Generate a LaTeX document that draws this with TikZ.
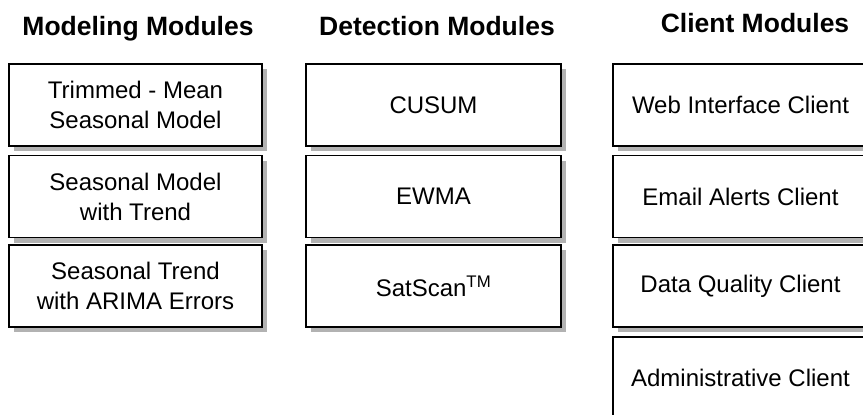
\documentclass[tikz,border=0pt]{standalone}
\usepackage{fontspec}
\setmainfont{Liberation Sans}
\usetikzlibrary{shadows}
\begin{document}
\begin{tikzpicture}[x=1pt,y=-1pt,
  modbox/.style={draw=black, line width=1.6pt, fill=white,
    minimum height=82pt, inner sep=0pt, align=center,
    font=\fontsize{24}{30}\selectfont,
    general shadow={fill=gray!60, shadow xshift=5pt, shadow yshift=-5pt}},
  modelbox/.style={modbox, minimum width=253pt},
  detbox/.style={modbox, minimum width=255pt},
  clibox/.style={modbox, minimum width=255pt},
  title/.style={anchor=base, inner sep=0pt, font=\fontsize{26.5}{30}\selectfont\bfseries}]
\useasboundingbox (0,0) rectangle (863,415);
\node[title] (t1) at (138,35.5) {Modeling Modules};
\node[title] (t2) at (437,35.5) {Detection Modules};
\node[title] (t3) at (755,32) {Client Modules};
\node[modelbox] (m1) at (135.5,105) {Trimmed - Mean\\Seasonal Model};
\node[modelbox] (m2) at (135.5,196.5) {Seasonal Model\\with Trend};
\node[modelbox] (m3) at (135.5,286) {Seasonal Trend\\with ARIMA Errors};
\node[detbox] (d1) at (433.5,105) {CUSUM};
\node[detbox] (d2) at (433.5,196.5) {EWMA};
\node[detbox] (d3) at (433.5,286) {SatScan\textsuperscript{TM}};
\node[clibox] (c1) at (740.5,105) {Web Interface Client};
\node[clibox] (c2) at (740.5,196.5) {Email Alerts Client};
\node[clibox] (c3) at (740.5,286) {Data Quality Client};
\node[clibox] (c4) at (740.5,378) {Administrative Client};
\end{tikzpicture}
\end{document}
